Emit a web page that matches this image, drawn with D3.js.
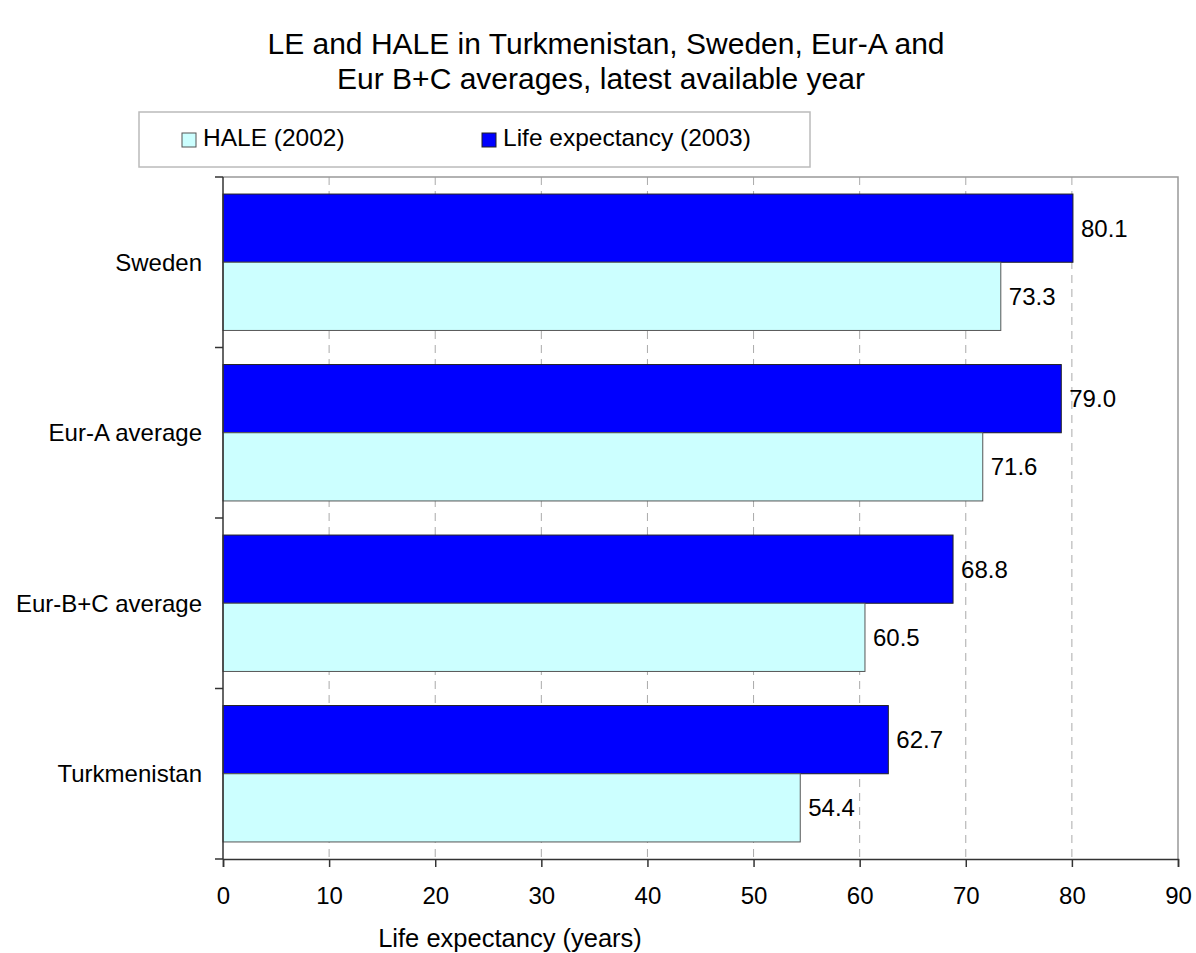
<!DOCTYPE html>
<html>
<head>
<meta charset="utf-8">
<script src="https://cdn.jsdelivr.net/npm/d3@7"></script>
<style>
  body { margin: 0; background: #fff; }
  text { font-family: "Liberation Sans", Arial, sans-serif; fill: #000; }
</style>
</head>
<body>
<script>
const width = 1196;
const height = 953;
const marginTop = 177;
const marginRight = 18;
const marginBottom = 94;
const marginLeft = 223;

// categories top to bottom
const categories = ["Sweden", "Eur-A average", "Eur-B+C average", "Turkmenistan"];
const lifeExp = [80.1, 79.0, 68.8, 62.7];
const hale = [73.3, 71.6, 60.5, 54.4];
const xTicks = [0, 10, 20, 30, 40, 50, 60, 70, 80, 90];
const seriesNames = ["HALE (2002)", "Life expectancy (2003)"];

const fs = 24;

const x = d3.scaleLinear([0, 90], [marginLeft, width - marginRight]);
const y = d3.scaleBand(categories, [marginTop, height - marginBottom]);
const barH = y.bandwidth() * 0.4;
const gapTop = y.bandwidth() * 0.1;

const svg = d3.select("body").append("svg")
  .attr("width", width)
  .attr("height", height);

// title
svg.append("text")
  .attr("x", 606).attr("y", 54)
  .attr("text-anchor", "middle")
  .attr("font-size", 30)
  .text("LE and HALE in Turkmenistan, Sweden, Eur-A and");
svg.append("text")
  .attr("x", 601).attr("y", 89)
  .attr("text-anchor", "middle")
  .attr("font-size", 30)
  .text("Eur B+C averages, latest available year");

// grid lines
svg.append("g")
  .selectAll("line")
  .data(xTicks.filter((d) => d > 0 && d < 90))
  .join("line")
  .attr("x1", (d) => x(d)).attr("x2", (d) => x(d))
  .attr("y1", marginTop).attr("y2", height - marginBottom)
  .attr("stroke", "#aaa")
  .attr("stroke-dasharray", "8,6");

// plot frame (top + right)
svg.append("path")
  .attr("d", `M${x(0)},${marginTop}H${x(90)}V${height - marginBottom}`)
  .attr("fill", "none")
  .attr("stroke", "#999")
  .attr("stroke-width", 1.5);

// bars
const rows = categories.map((c, i) => ({ cat: c, le: lifeExp[i], hale: hale[i] }));

const g = svg.append("g").selectAll("g").data(rows).join("g");

g.append("rect")
  .attr("x", x(0))
  .attr("y", (d) => y(d.cat) + gapTop)
  .attr("width", (d) => x(d.le) - x(0))
  .attr("height", barH)
  .attr("fill", "#0000ff")
  .attr("stroke", "#222")
  .attr("stroke-width", 1);

g.append("rect")
  .attr("x", x(0))
  .attr("y", (d) => y(d.cat) + gapTop + barH)
  .attr("width", (d) => x(d.hale) - x(0))
  .attr("height", barH)
  .attr("fill", "#ccffff")
  .attr("stroke", "#555")
  .attr("stroke-width", 1);

g.append("text")
  .attr("x", (d) => x(d.le) + 8)
  .attr("y", (d) => y(d.cat) + gapTop + barH / 2)
  .attr("dy", "0.35em")
  .attr("font-size", fs)
  .text((d) => d.le.toFixed(1));

g.append("text")
  .attr("x", (d) => x(d.hale) + 8)
  .attr("y", (d) => y(d.cat) + gapTop + barH * 1.5)
  .attr("dy", "0.35em")
  .attr("font-size", fs)
  .text((d) => d.hale.toFixed(1));

// x axis
const xAxis = svg.append("g")
  .attr("transform", `translate(0,${height - marginBottom})`)
  .call(d3.axisBottom(x).tickValues(xTicks).tickSize(8).tickPadding(20));
xAxis.select(".domain").attr("stroke", "#333").attr("stroke-width", 1.5);
xAxis.selectAll(".tick line").attr("stroke", "#333").attr("stroke-width", 1.5);
xAxis.selectAll("text")
  .attr("font-size", fs)
  .attr("font-family", "Liberation Sans, Arial, sans-serif")
  .attr("fill", "#000");

// y axis
svg.append("line")
  .attr("x1", x(0)).attr("x2", x(0))
  .attr("y1", marginTop).attr("y2", height - marginBottom)
  .attr("stroke", "#333").attr("stroke-width", 1.5);
const bounds = categories.map((c) => y(c)).concat([height - marginBottom]);
svg.append("g").selectAll("line").data(bounds).join("line")
  .attr("x1", x(0) - 8).attr("x2", x(0))
  .attr("y1", (d) => d).attr("y2", (d) => d)
  .attr("stroke", "#333").attr("stroke-width", 1.5);

svg.append("g").selectAll("text").data(categories).join("text")
  .attr("x", 202)
  .attr("y", (d) => y(d) + y.bandwidth() / 2)
  .attr("dy", "0.35em")
  .attr("text-anchor", "end")
  .attr("font-size", fs)
  .text((d) => d);

// axis title
svg.append("text")
  .attr("x", 510).attr("y", 947)
  .attr("text-anchor", "middle")
  .attr("font-size", 25.5)
  .text("Life expectancy (years)");

// legend
const legend = svg.append("g");
legend.append("rect")
  .attr("x", 139).attr("y", 112)
  .attr("width", 671).attr("height", 55)
  .attr("fill", "#fff")
  .attr("stroke", "#bbb")
  .attr("stroke-width", 1.5);
const legendItems = [
  { name: seriesNames[0], fill: "#ccffff", stroke: "#555", x: 182 },
  { name: seriesNames[1], fill: "#0000ff", stroke: "#222", x: 482 },
];
legend.selectAll("rect.sw").data(legendItems).join("rect")
  .attr("class", "sw")
  .attr("x", (d) => d.x).attr("y", 133)
  .attr("width", 14).attr("height", 14)
  .attr("fill", (d) => d.fill)
  .attr("stroke", (d) => d.stroke);
legend.selectAll("text").data(legendItems).join("text")
  .attr("x", (d) => d.x + 21).attr("y", 146)
  .attr("font-size", 24.5)
  .text((d) => d.name);
</script>
</body>
</html>
